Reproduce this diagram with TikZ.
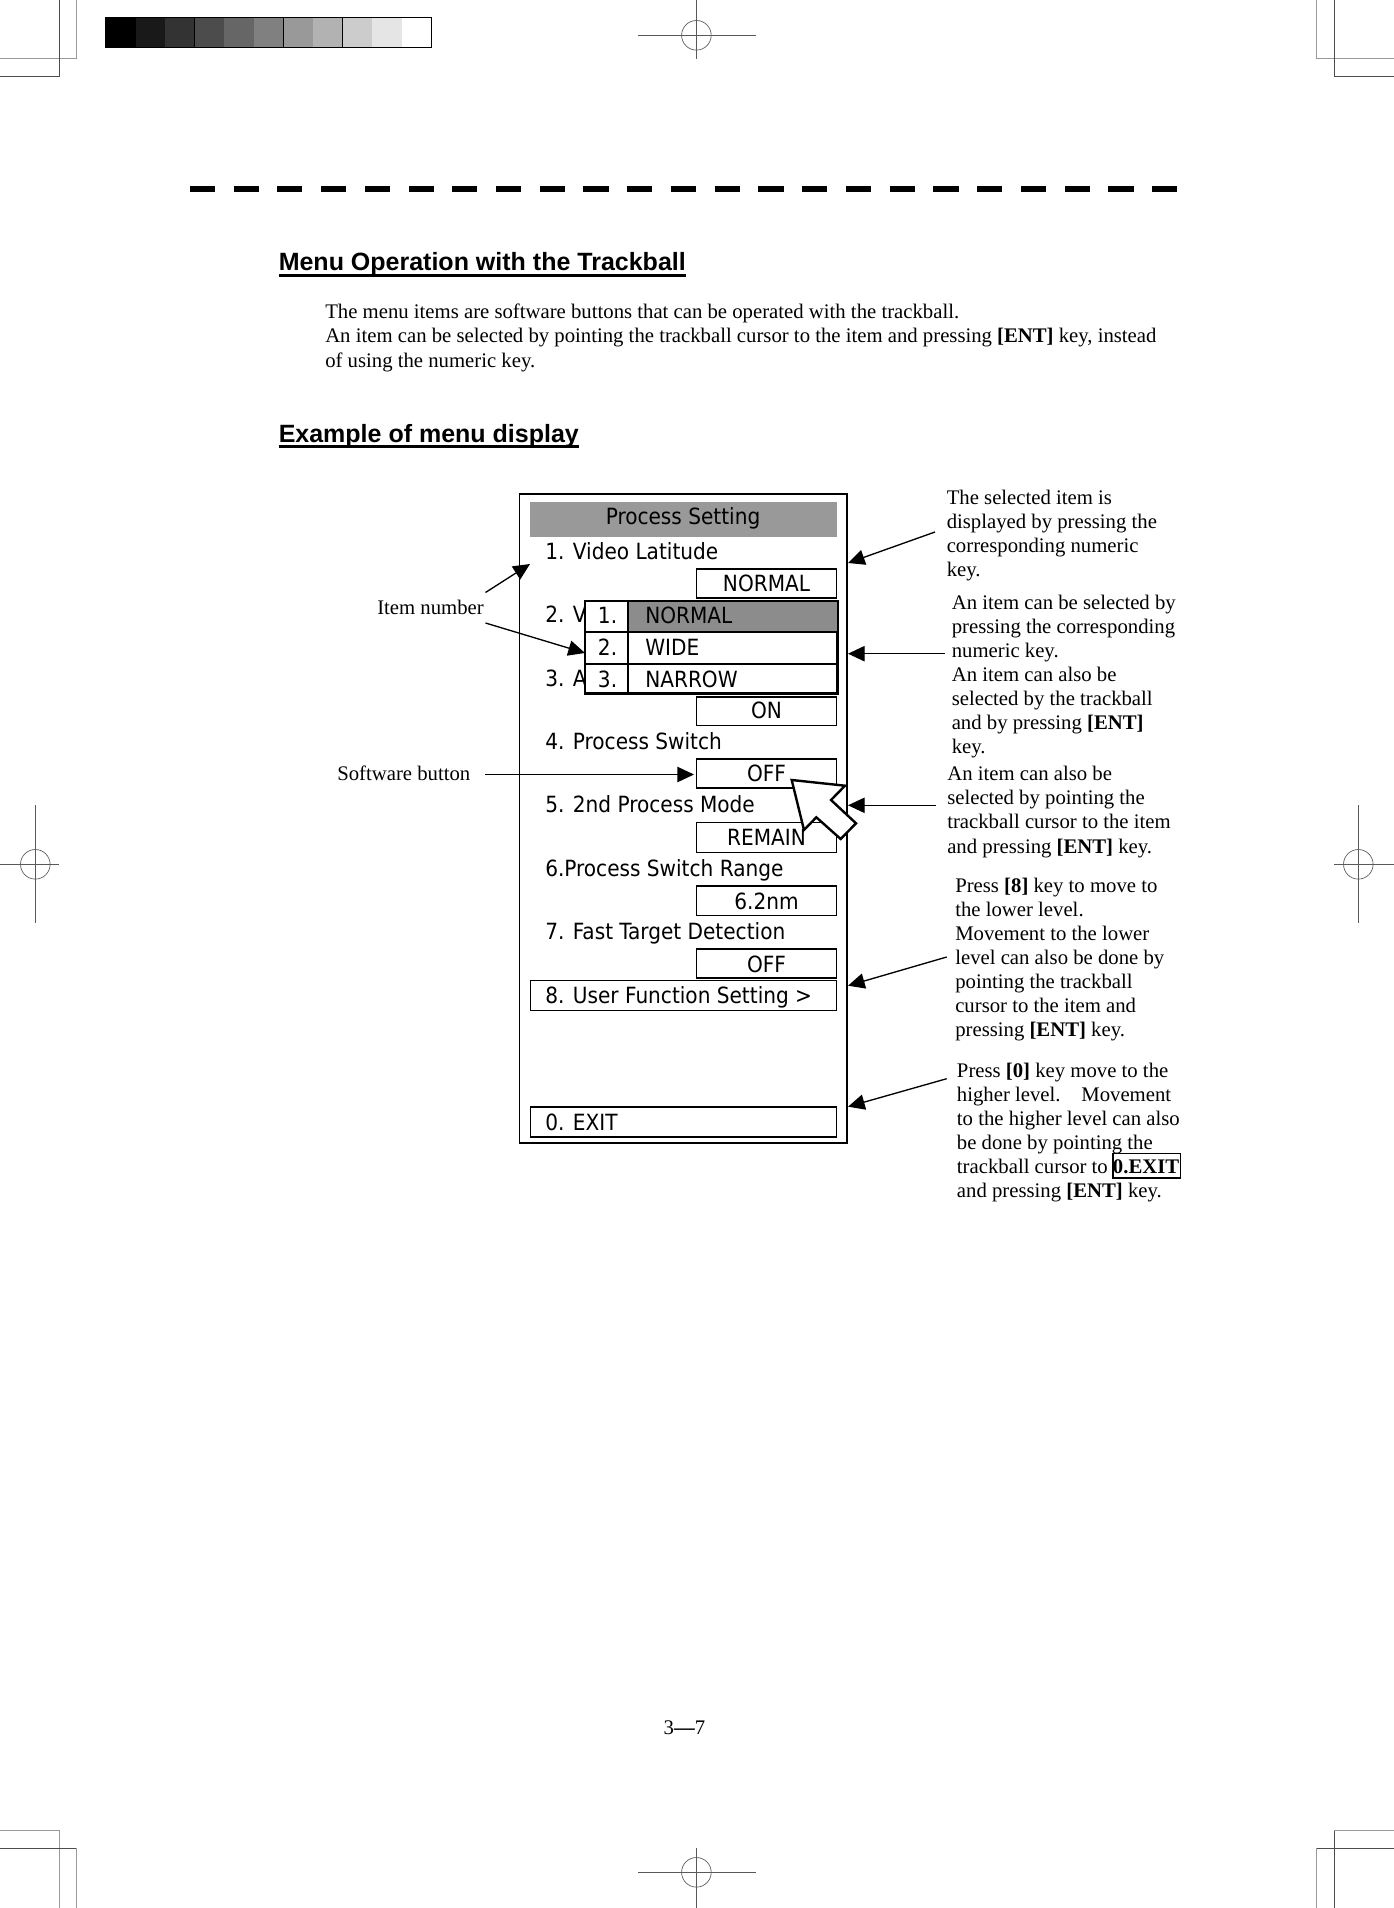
\documentclass[tikz,border=0pt]{standalone}
\usepackage{fontspec}
\setmainfont{Liberation Serif}
\newfontfamily\armenu{DejaVu Sans Condensed}
\newfontfamily\arhead{Liberation Sans}
\usetikzlibrary{arrows.meta}
\newcommand{\mfs}{\armenu\fontsize{16.75}{20}\selectfont}
\newcommand{\bfs}{\rmfamily\fontsize{15.55}{18.05}\selectfont}
\tikzset{
  x=.75pt,y=-.75pt,
  cropdark/.style={draw=black!70,line width=.75pt},
  croplight/.style={draw=black!40,line width=.75pt},
  regline/.style={draw=black!65,line width=.7pt},
  regcirc/.style={draw=black!65,line width=.5pt},
  frame/.style={draw=black,line width=1.2pt},
  valbox/.style={draw=black,line width=1.1pt,fill=white},
  popbox/.style={draw=black,line width=1.6pt,fill=white},
  menutext/.style={font=\mfs,inner sep=0pt,anchor=base west},
  valtext/.style={font=\mfs,inner sep=0pt,anchor=base},
  note/.style={font=\bfs,inner sep=0pt,anchor=base west,align=left},
  headline/.style={font=\arhead\bfseries\fontsize{18.75}{22}\selectfont,inner sep=0pt,anchor=base west},
  headrule/.style={draw=black,line width=2.2pt},
  callout/.style={draw=black,line width=1pt,-{Triangle[length=12.5pt,width=11.5pt]}},
}
\begin{document}
\begin{tikzpicture}
\useasboundingbox (0,0) rectangle (1394,1908);
% crop marks
\draw[croplight] (0,58.7) -- (76.5,58.7) -- (76.5,0);
\draw[cropdark] (0,76.3) -- (59,76.3) -- (59,0);
\draw[croplight] (1394,58.7) -- (1316.7,58.7) -- (1316.7,0);
\draw[cropdark] (1394,76.3) -- (1334.3,76.3) -- (1334.3,0);
\draw[croplight] (0,1830.7) -- (59,1830.7) -- (59,1908);
\draw[cropdark] (0,1848.3) -- (76.5,1848.3);
\draw[croplight] (76.5,1848.3) -- (76.5,1908);
\draw[croplight] (1394,1830.7) -- (1334.3,1830.7);
\draw[cropdark] (1334.3,1830.7) -- (1334.3,1908);
\draw[cropdark] (1394,1848.3) -- (1316.7,1848.3);
\draw[croplight] (1316.7,1848.3) -- (1316.7,1908);
% registration marks
\draw[regline] (696.4,0) -- (696.4,58.7) (637.8,35.3) -- (756,35.3);
\draw[regcirc] (696.4,35.3) circle[radius=11.1pt];
\draw[regline] (696.4,1848.3) -- (696.4,1908) (637.8,1872.3) -- (756,1872.3);
\draw[regcirc] (696.4,1872.3) circle[radius=11.1pt];
\draw[regline] (35.3,805) -- (35.3,923.3) (0,864.3) -- (59,864.3);
\draw[regcirc] (35.3,864.3) circle[radius=11.1pt];
\draw[regline] (1358.3,805) -- (1358.3,923.3) (1334,864.3) -- (1394,864.3);
\draw[regcirc] (1358.3,864.3) circle[radius=11.1pt];
% grey scale
\foreach \i in {0,...,10}{
  \pgfmathsetmacro{\p}{100-10*\i}
  \pgfmathsetmacro{\xa}{106+29.6*\i}
  \pgfmathsetmacro{\xb}{106+29.6*(\i+1)}
  \fill[black!\p!white] (\xa,17.3) rectangle (\xb,47.7);
  \draw[black,line width=.5pt] (\xb,17.3) -- (\xb,47.7);
}
\draw[black,line width=1.1pt] (106,17.3) rectangle (431.6,47.7);
% dashed rule
\foreach \i in {0,...,22}{
  \pgfmathsetmacro{\xa}{189.8+43.74*\i}
  \fill[black] (\xa,186) rectangle ++(25.2,6);
}
% texts
\node[headline] (h1) at (278.5,270.5) {Menu Operation with the Trackball};
\draw[headrule] ([yshift=-3.6pt]h1.base west) -- ([yshift=-3.6pt]h1.base east);
\node[note] (body) at (325,367) {The menu items are software buttons that can be operated with the trackball.\\
An item can be selected by pointing the trackball cursor to the item and pressing \textbf{[ENT]} key, instead\\
of using the numeric key.};
\node[headline] (h2) at (278.5,442) {Example of menu display};
\draw[headrule] ([yshift=-3.6pt]h2.base west) -- ([yshift=-3.6pt]h2.base east);
% menu
\draw[frame] (519.5,494) rectangle (847,1143);
\fill[black!40] (530,502) rectangle (837,537);
\node[valtext] (title) at (683,524.3) {Process Setting};
\node[menutext] (m1) at (545,559.3) {1. Video Latitude};
\node[menutext] (m2) at (545,622.7) {2. V};
\node[menutext] (m3) at (545,686) {3. A};
\node[menutext] (m4) at (545,749.3) {4. Process Switch};
\node[menutext] (m5) at (545,812.7) {5. 2nd Process Mode};
\node[menutext] (m6) at (545,876) {6.Process Switch Range};
\node[menutext] (m7) at (545,939.3) {7. Fast Target Detection};
\draw[valbox] (696.5,569) rectangle (836.5,598);
\draw[valbox] (696.5,697) rectangle (836.5,725.5);
\draw[valbox] (696.5,759) rectangle (836.5,788);
\draw[valbox] (696.5,822.5) rectangle (836.5,852.5);
\draw[valbox] (696.5,886) rectangle (836.5,915.5);
\draw[valbox] (696.5,949) rectangle (836.5,978);
\node[valtext] (v1) at (766.5,591) {NORMAL};
\node[valtext] (v3) at (766.5,718.3) {ON};
\node[valtext] (v4) at (766.5,781) {OFF};
\node[valtext] (v5) at (766.5,845.7) {REMAIN};
\node[valtext] (v6) at (766.5,909) {6.2nm};
\node[valtext] (v7) at (766.5,972.3) {OFF};
\draw[valbox] (530.5,980.5) rectangle (836.5,1010.5);
\node[menutext] (m8) at (545,1003.3) {8. User Function Setting >};
\draw[valbox,line width=.9pt] (530.5,1107) rectangle (836.5,1137);
\node[menutext] (m0) at (545,1130.7) {0. EXIT};
% popup
\draw[popbox] (585,601) rectangle (837.5,632);
\fill[black!45] (628,602) rectangle (836.5,631);
\draw[popbox] (585,632) rectangle (837.5,664);
\draw[popbox] (585,664) rectangle (837.5,693.5);
\draw[black,line width=1.6pt] (628,601) -- (628,693.5);
\node[menutext] (p1) at (597.7,623.7) {1.};
\node[menutext] (p2) at (597.7,655.3) {2.};
\node[menutext] (p3) at (597.7,687) {3.};
\node[menutext] (q1) at (645,623.7) {NORMAL};
\node[menutext] (q2) at (645,655.3) {WIDE};
\node[menutext] (q3) at (645,687) {NARROW};
% cursor
\draw[fill=white,draw=black,line width=1.8pt,line join=miter] (791.7,780) -- (845,785.7) -- (831,800) -- (856,823.3) -- (840.7,839) -- (816.3,817.3) -- (804,830) -- cycle;
% labels
\node[note] (itemnum) at (377,614) {Item number};
\node[note] (softbtn) at (337,780.5) {Software button};
\node[note] (na) at (946.5,576.5) {The selected item is\\displayed by pressing the\\corresponding numeric\\key.};
\node[note] (nb) at (951.5,753.5) {An item can be selected by\\pressing the corresponding\\numeric key.\\An item can also be\\selected by the trackball\\and by pressing \textbf{[ENT]}\\key.};
\node[note] (nc) at (947,853) {An item can also be\\selected by pointing the\\trackball cursor to the item\\and pressing \textbf{[ENT]} key.};
\node[note] (nd) at (955,1036.7) {Press \textbf{[8]} key to move to\\the lower level.\\Movement to the lower\\level can also be done by\\pointing the trackball\\cursor to the item and\\pressing \textbf{[ENT]} key.};
\node[note] (ne) at (956.7,1197.7) {Press \textbf{[0]} key move to the\\higher level.\quad Movement\\to the higher level can also\\be done by pointing the\\trackball cursor to \textbf{0.EXIT}\\and pressing \textbf{[ENT]} key.};
\draw[black,line width=.8pt] (1113,1153.7) rectangle (1180.5,1178);
\node[font=\bfs,inner sep=0pt,anchor=base] (pageno) at (684.5,1734) {3\textbf{—}7};
% connectors
\coordinate (a1) at (935,532); \coordinate (a2) at (848,563);
\coordinate (b1) at (945,653.7); \coordinate (b2) at (848,653.7);
\coordinate (c1) at (935.7,805.3); \coordinate (c2) at (848,805.3);
\coordinate (d1) at (946.7,957); \coordinate (d2) at (848,985.7);
\coordinate (e1) at (946.7,1078.7); \coordinate (e2) at (848,1106.7);
\coordinate (s1) at (485,774.5); \coordinate (s2) at (694,774.5);
\coordinate (i1) at (485.5,592.5); \coordinate (i2) at (530,564);
\coordinate (j1) at (485.5,623); \coordinate (j2) at (585,653);
\draw[callout] (a1) -- (a2);
\draw[callout] (b1) -- (b2);
\draw[callout] (c1) -- (c2);
\draw[callout] (d1) -- (d2);
\draw[callout] (e1) -- (e2);
\draw[callout] (s1) -- (s2);
\draw[callout] (i1) -- (i2);
\draw[callout] (j1) -- (j2);
\end{tikzpicture}
\end{document}
